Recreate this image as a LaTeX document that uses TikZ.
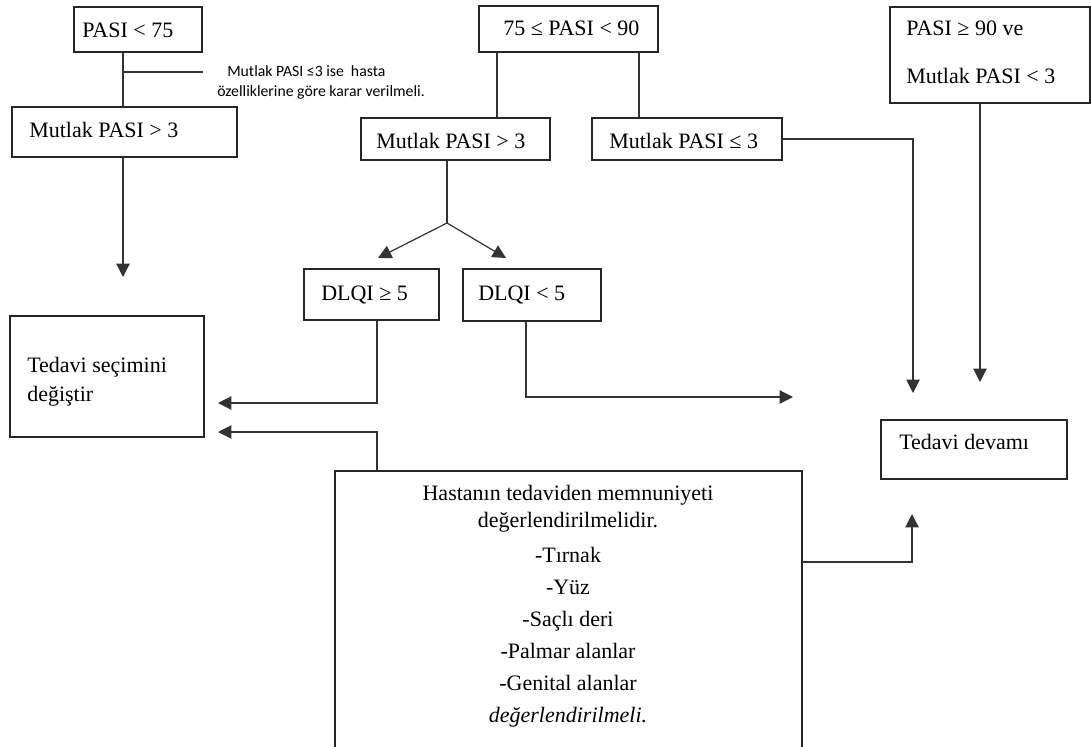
\documentclass[tikz,border=0pt]{standalone}
\usepackage{fontspec}
\setmainfont{Liberation Serif}
\newfontfamily\notefont{Carlito}
\usetikzlibrary{arrows.meta,fit}
\tikzset{
  box/.style={draw=black!85, line width=0.9pt, inner sep=0pt},
  txt/.style={inner sep=0pt, anchor=base west, font=\fontsize{16.5}{24}\selectfont},
  conn/.style={draw=black!80, line width=0.9pt},
  arr/.style={conn, -{Triangle[length=10pt,width=10pt]}},
}
\begin{document}
\begin{tikzpicture}[x=0.75pt,y=-0.75pt]
\useasboundingbox (0,0) rectangle (1091,746);
\clip (0,0) rectangle (1091,746);
\fill[white] (0,0) rectangle (1091,746);

% boxes
\node[box, fit={(74,7) (202,52)}] (b1) {};
\node[box, fit={(479,6) (658,52)}] (b2) {};
\node[box, fit={(890,7) (1090,103)}] (b3) {};
\node[box, fit={(12,107) (237,157)}] (b4) {};
\node[box, fit={(361,118) (550,160)}] (b5) {};
\node[box, fit={(592,118) (782,160)}] (b6) {};
\node[box, fit={(304,269) (439,320)}] (b7) {};
\node[box, fit={(463,269) (601,321)}] (b8) {};
\node[box, fit={(10,316) (204,437)}] (b9) {};
\node[box, fit={(881,420) (1067,479)}] (b10) {};
\node[box, fit={(335,471) (802,770)}] (b11) {};

% texts (multi-line nodes: base = baseline of the last line)
\node[txt] (t-b1) at (82,37) {PASI < 75};
\node[txt] (t-b2) at (503,36) {75 ≤ PASI < 90};
\node[txt, align=left] (t-b3) at (906,83) {PASI ≥ 90 ve\\[12pt]Mutlak PASI < 3};
\node[txt] (t-b4) at (29,137) {Mutlak PASI > 3};
\node[txt] (t-b5) at (376,148) {Mutlak PASI > 3};
\node[txt] (t-b6) at (609,148) {Mutlak PASI ≤ 3};
\node[txt] (t-b7) at (321,300) {DLQI ≥ 5};
\node[txt] (t-b8) at (478,300) {DLQI < 5};
\node[txt, align=left, font=\fontsize{16.5}{21.75}\selectfont] (t-b9) at (27,401) {Tedavi seçimini\\değiştir};
\node[txt] (t-b10) at (899,449) {Tedavi devamı};
\node[txt, anchor=base, align=center] (t-b11) at (568,722)
  {Hastanın tedaviden memnuniyeti\\[-3.75pt]değerlendirilmelidir.\\[2.25pt]-Tırnak\\-Yüz\\-Saçlı deri\\-Palmar alanlar\\-Genital alanlar\\\textit{değerlendirilmeli.}};
\node[inner sep=0pt, anchor=base west, align=left, font=\notefont\fontsize{11.8}{15}\selectfont] (note) at (217,96)
  {\hspace*{7.5pt}Mutlak PASI ≤3 ise\ \ hasta\\özelliklerine göre karar verilmeli.};

% free ends
\coordinate (nb) at (123,72);
\coordinate (ne) at (203,72);
\coordinate (a1) at (123,277);
\coordinate (fork) at (447,223);
\coordinate (a2) at (378,258);
\coordinate (a3) at (506,258);
\coordinate (a5) at (913,393);
\coordinate (a6) at (980,382);
\coordinate (a7) at (218,403);
\coordinate (a8) at (793,397);
\coordinate (a9) at (218,432);
\coordinate (a10) at (912,514);

% connectors
\draw[conn] (123,0 |- b1.south) -- (123,0 |- b4.north);
\draw[conn] (nb) -- (ne);
\draw[arr] (123,0 |- b4.south) -- (a1);
\draw[conn] (497,0 |- b2.south) -- (497,0 |- b5.north);
\draw[conn] (639,0 |- b2.south) -- (639,0 |- b6.north);
\draw[conn] (447,0 |- b5.south) -- (fork);
\draw[arr] (fork) -- (a2);
\draw[arr] (fork) -- (a3);
\draw[arr] (b6.east) -- (a5 |- b6.east) -- (a5);
\draw[arr] (a6 |- b3.south) -- (a6);
\draw[arr] (377,0 |- b7.south) -- (377,0 |- a7) -- (a7);
\draw[arr] (526,0 |- b8.south) -- (526,0 |- a8) -- (a8);
\draw[arr] (377,0 |- b11.north) -- (377,0 |- a9) -- (a9);
\draw[arr] (b11.east |- 0,562) -- (a10 |- 0,562) -- (a10);
\end{tikzpicture}
\end{document}
